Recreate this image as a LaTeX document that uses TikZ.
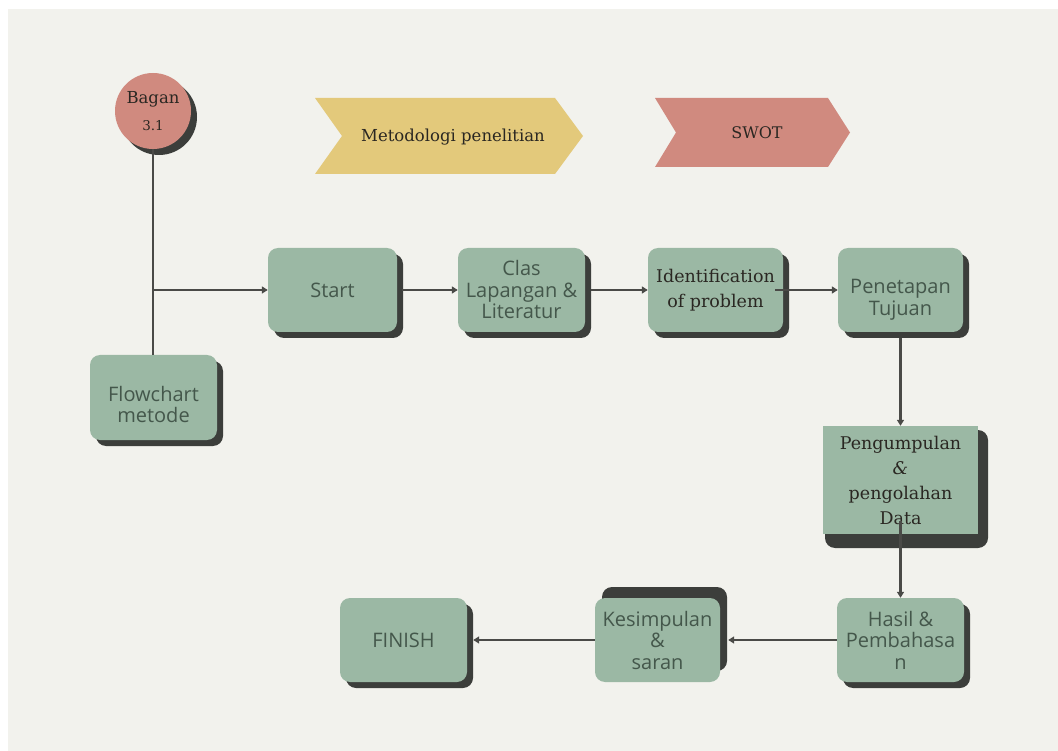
\documentclass[tikz,border=0pt]{standalone}
\usepackage{fontspec}
\usetikzlibrary{shadows,arrows.meta}
\newfontfamily\serf{DejaVu Serif}
\newfontfamily\sansf{Open Sans}
\definecolor{bgc}{HTML}{F2F2ED}
\definecolor{boxc}{HTML}{9BB8A4}
\definecolor{shadc}{HTML}{3C3E3B}
\definecolor{linec}{HTML}{4A4A47}
\definecolor{txtg}{HTML}{44574B}
\definecolor{txtk}{HTML}{2A2722}
\definecolor{yelc}{HTML}{E3C97B}
\definecolor{pinkc}{HTML}{D08A7F}
\newcommand\lowtext[1]{\raisebox{-10pt}[\height][\depth]{\begin{tabular}{@{}c@{}}#1\end{tabular}}}
\begin{document}
\begin{tikzpicture}[x=1pt,y=-1pt,
 boxbase/.style={fill=boxc, rounded corners=10pt, minimum height=84pt, inner sep=0pt, align=center, text=txtg, font=\sansf\fontsize{20}{21.5}\selectfont},
 box/.style={boxbase, drop shadow={shadow xshift=6pt, shadow yshift=-6pt, fill=shadc, opacity=1}},
 serifbox/.style={box, text=txtk, font=\serf\fontsize{17.5}{25}\selectfont},
 link/.style={draw=linec, line width=2.2pt},
 arrow/.style={link, -{Triangle[length=6pt,width=7pt]}},
 chev/.style={font=\serf\fontsize{16.5}{18}\selectfont, text=txtk}
]
\useasboundingbox (0,0) rectangle (1058,751);
\fill[white] (0,0) rectangle (1058,751);
\fill[bgc] (8,9) rectangle (1058,751);

% banners
\fill[yelc] (315,98) -- (555,98) -- (583,136) -- (555,174) -- (315,174) -- (342,136) -- cycle;
\node[chev] (meto) at (453,137) {Metodologi penelitian};
\fill[pinkc] (655,98) -- (828,98) -- (850,132.5) -- (828,167) -- (655,167) -- (676,132.5) -- cycle;
\node[chev, font=\serf\fontsize{16}{18}\selectfont] (swot) at (757,133) {SWOT};

% circle
\node[circle, fill=pinkc, minimum size=76pt, inner sep=0pt, align=center, text=txtk,
      font=\serf\fontsize{16.5}{27}\selectfont,
      drop shadow={shadow xshift=6pt, shadow yshift=-6pt, fill=shadc, opacity=1}]
      (bagan) at (153,111) {Bagan\\{\fontsize{13.5}{15}\selectfont 3.1}};

% boxes
\node[box, minimum width=127pt, minimum height=85pt] (flow) at (153.5,397.5) {\lowtext{Flowchart\\metode}};
\node[box, minimum width=129pt] (start) at (332.5,290) {Start};
\node[box, minimum width=127pt] (clas) at (521.5,290) {Clas\\Lapangan \&\\Literatur};
\node[serifbox, minimum width=135pt] (ident) at (715.5,290) {Identification\\of problem};
\node[box, minimum width=125pt] (pen) at (900.5,290) {\lowtext{Penetapan\\Tujuan}};

\fill[shadc, rounded corners=10pt] (825,430) rectangle (988,548);
\node[boxbase, rounded corners=0pt, minimum width=155pt, minimum height=108pt, text=txtk,
      font=\serf\fontsize{17.5}{25}\selectfont] (peng) at (900.5,480) {Pengumpulan\\{\itshape\&}\\pengolahan\\Data};

\node[box, minimum width=127pt] (hasil) at (900.5,640) {Hasil \&\\Pembahasa\\n};
\node[boxbase, minimum width=125pt,
      drop shadow={shadow xshift=7pt, shadow yshift=11pt, fill=shadc, opacity=1}] (kes) at (657.5,640) {Kesimpulan\\\&\\saran};
\node[box, minimum width=127pt] (fin) at (403.5,640) {FINISH};

% connectors
\coordinate (br) at (153,290);
\draw[link] (bagan.south) -- (bagan.south |- flow.north);
\draw[arrow] (br) -- (start.west);
\draw[arrow] ([xshift=5pt]start.east) -- (clas.west);
\draw[arrow] ([xshift=6pt]clas.east) -- (ident.west);
\draw[arrow] ([xshift=-8pt]ident.east) -- (pen.west);
\draw[arrow] ([yshift=-6pt]pen.south) -- (peng.north);
\draw[arrow] ([yshift=13pt]peng.south) -- (hasil.north);
\draw[arrow] (hasil.west) -- ([xshift=8pt]kes.east);
\draw[arrow] (kes.west) -- ([xshift=6pt]fin.east);
\end{tikzpicture}
\end{document}
